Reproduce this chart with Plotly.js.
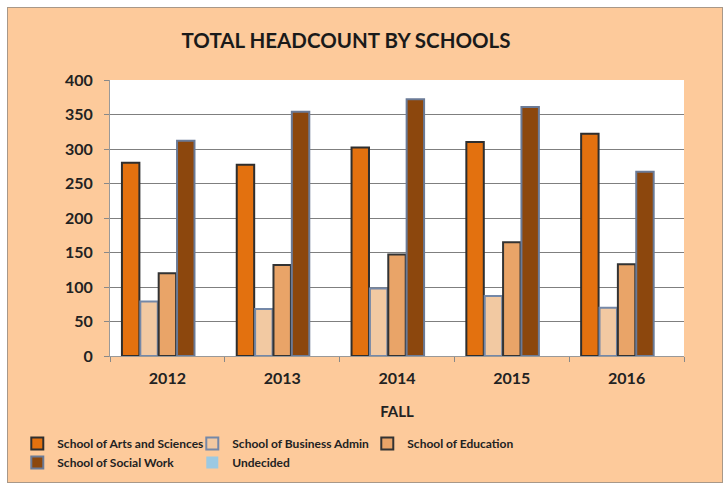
<!DOCTYPE html>
<html>
<head>
<meta charset="utf-8">
<script src="https://cdn.plot.ly/plotly-3.0.1.min.js"></script>
<style>
  html, body { margin: 0; padding: 0; background: #ffffff; width: 725px; height: 485px; overflow: hidden; }
  #frame { position: absolute; left: 7px; top: 7px; width: 714px; height: 474px; border: 1px solid #a89888; background: #FDCA9B; }
  #chart { width: 714px; height: 474px; }
</style>
</head>
<body>
<div id="frame"><div id="chart"></div></div>
<script>
const years = ['2012', '2013', '2014', '2015', '2016'];
const artsSciences = [280, 277, 302, 310, 322];
const businessAdmin = [79, 68, 98, 87, 70];
const education = [120, 132, 147, 165, 133];
const socialWork = [312, 354, 372, 361, 267];
const undecided = [0, 0, 0, 0, 0];
const yTicks = [0, 50, 100, 150, 200, 250, 300, 350, 400];

const seriesNames = ['School of Arts and Sciences', 'School of Business Admin', 'School of Education', 'School of Social Work', 'Undecided'];
const seriesValues = [artsSciences, businessAdmin, education, socialWork, undecided];
const fills = ['#E3710F', '#F2C9A2', '#E9A468', '#8C470D', '#9CC9E2'];
const outlines = ['#2e2e2e', '#7488a8', '#333333', '#6a7a96', '#7a9ab8'];
const outlineWidths = [2, 2, 2, 2, 0];

const data = seriesNames.map((name, i) => ({
  type: 'bar',
  name: name,
  x: years,
  y: seriesValues[i],
  marker: { color: fills[i], line: { color: outlines[i], width: outlineWidths[i] } },
  hoverinfo: 'x+y+name'
}));

const fontFam = 'Lato, "Open Sans", sans-serif';
const layout = {
  width: 714,
  height: 474,
  paper_bgcolor: '#FDCA9B',
  plot_bgcolor: '#ffffff',
  margin: { l: 102, r: 38, t: 72, b: 126 },
  font: { family: fontFam, color: '#222222', size: 14 },
  title: {
    text: '<b>TOTAL HEADCOUNT BY SCHOOLS</b>',
    font: { family: fontFam, size: 20.5, color: '#1a1a1a' },
    x: 338 / 714, xanchor: 'center', xref: 'container',
    y: 1 - 33 / 474, yanchor: 'middle', yref: 'container'
  },
  barmode: 'group',
  bargap: 0.2,
  bargroupgap: 0.05,
  xaxis: {
    type: 'category',
    tickson: 'boundaries',
    ticks: 'outside',
    ticklen: 5,
    tickcolor: '#888888',
    ticklabelstandoff: 8,
    showgrid: false,
    showline: true,
    linecolor: '#999999',
    linewidth: 1,
    tickfont: { family: fontFam, size: 16, color: '#222222', weight: 'bold' },
    title: { text: '<b>FALL</b>', font: { family: fontFam, size: 15, color: '#222222' }, standoff: 20 }
  },
  yaxis: {
    range: [0, 400],
    tickvals: yTicks,
    ticktext: yTicks.map(String),
    ticks: 'outside',
    ticklen: 5,
    tickcolor: '#888888',
    ticklabelstandoff: 8,
    showgrid: true,
    gridcolor: '#7f7f7f',
    gridwidth: 1,
    showline: true,
    linecolor: '#999999',
    zeroline: false,
    tickfont: { family: fontFam, size: 16, color: '#222222', weight: 'bold' }
  },
  showlegend: true,
  legend: {
    orientation: 'h',
    xref: 'container', yref: 'container',
    x: 0.013, xanchor: 'left',
    y: 1 - 421 / 474, yanchor: 'top',
    bgcolor: 'rgba(0,0,0,0)',
    entrywidth: 130,
    entrywidthmode: 'pixels',
    itemwidth: 30,
    font: { family: fontFam, size: 12, color: '#222222', weight: 'bold' },
    traceorder: 'normal'
  }
};

Plotly.newPlot('chart', data, layout, { displayModeBar: false, staticPlot: true });
</script>
</body>
</html>
